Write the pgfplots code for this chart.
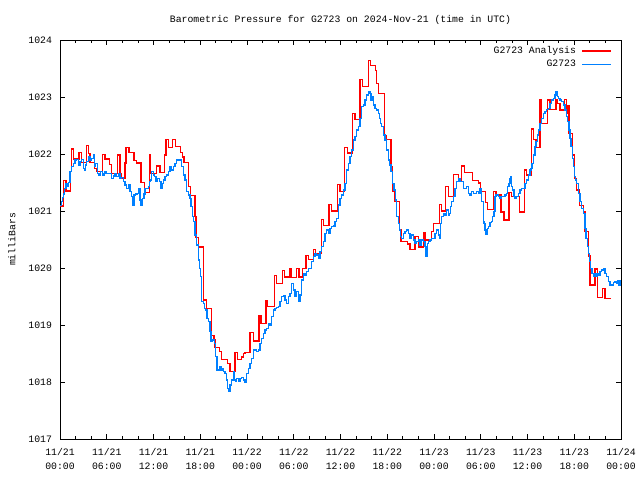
\documentclass[border=0pt]{standalone}
\usepackage{fontspec}
\setmainfont{Liberation Mono}
\usepackage{pgfplots}
\pgfplotsset{compat=1.18}
\definecolor{anared}{RGB}{255,0,0}
\definecolor{obsblue}{RGB}{0,128,255}
\newcommand\gfont{\fontsize{9.8bp}{14bp}\selectfont}
\begin{document}
\begin{tikzpicture}
\useasboundingbox (0bp,0bp) rectangle (640bp,480bp);
\begin{axis}[
  at={(60bp,41bp)}, anchor=south west,
  scale only axis, width=561bp, height=399bp,
  xmin=0, xmax=72, ymin=1017, ymax=1024,
  xtick={0,6,...,72},
  xticklabels={{11/21\\00:00},{11/21\\06:00},{11/21\\12:00},{11/21\\18:00},{11/22\\00:00},{11/22\\06:00},{11/22\\12:00},{11/22\\18:00},{11/23\\00:00},{11/23\\06:00},{11/23\\12:00},{11/23\\18:00},{11/24\\00:00}},
  minor x tick num=2,
  ytick={1017,1018,1019,1020,1021,1022,1023,1024},
  /pgf/number format/assume math mode=true,
  /pgf/number format/1000 sep={},
  tick align=inside, xtick pos=both, ytick pos=both,
  xticklabel pos=bottom, yticklabel pos=left,
  major tick length=5bp, minor tick length=3bp,
  every tick/.style={black, line width=0.8bp},
  axis line style={line width=0.9bp},
  tick label style={font=\gfont},
  xticklabel style={align=center, yshift=-5.5bp},
  yticklabel style={xshift=-4.5bp},
  ylabel={milliBars},
  ylabel style={font=\gfont, at={(axis description cs:-0.0856,0.5)}, anchor=center},
  legend plot pos=right,
  legend cell align=right,
  legend style={at={(1,1)}, anchor=north east, xshift=-9bp, yshift=-5bp, draw=none, fill=none, font=\gfont, row sep=2bp, column sep=4bp, inner sep=0pt, nodes={inner sep=1.5bp}},
  legend image code/.code={\draw[#1] (0bp,0bp) -- (29bp,0bp);},
]
\addplot[const plot, color=anared, line width=1.3bp] coordinates {
(0,1021.09) (0.43,1021.54) (0.77,1021.35) (1.37,1021.69) (1.50,1022.09) (1.71,1021.91)
(2.44,1022.03) (2.78,1021.85) (3.42,1022.15) (3.68,1022.01) (3.85,1021.85) (4.41,1021.75)
(4.71,1021.69) (5.48,1021.99) (5.78,1021.91) (6.33,1021.81) (6.63,1021.66) (7.40,1021.98)
(7.70,1021.66) (7.91,1021.57) (8.34,1021.84) (8.47,1022.12) (8.86,1022.03) (9.50,1021.88)
(9.84,1021.84) (10.40,1021.50) (10.82,1021.33) (11.46,1021.98) (11.64,1021.66) (12.41,1021.79)
(12.83,1021.68) (13.39,1021.98) (13.60,1022.26) (13.90,1022.12) (14.46,1022.26) (14.84,1022.13)
(15.44,1022.03) (15.74,1021.95) (15.91,1021.85) (16.47,1021.43) (16.77,1021.27) (17.33,1020.90)
(17.46,1020.54) (17.76,1020.37) (18.40,1019.44) (18.83,1019.29) (19.47,1018.82) (19.77,1018.75)
(19.90,1018.61) (20.45,1018.53) (20.75,1018.39) (21.48,1018.33) (21.82,1018.19) (22.46,1018.52)
(22.81,1018.39) (23.32,1018.44) (23.53,1018.50) (23.75,1018.52) (24.39,1018.87) (24.82,1018.72)
(25.54,1019.16) (25.80,1019.03) (26.44,1019.43) (26.66,1019.32) (27.51,1019.87) (27.81,1019.73)
(28.54,1019.96) (28.80,1019.84) (29.52,1019.98) (29.74,1019.83) (30.38,1019.99) (30.68,1019.84)
(31.11,1019.99) (31.58,1020.22) (31.87,1020.15) (32.52,1020.33) (32.82,1020.25) (33.59,1020.85)
(33.80,1020.74) (34.53,1021.12) (34.87,1021.00) (35.63,1021.46) (35.93,1021.34) (36.49,1022.12)
(36.92,1022.02) (37.51,1022.71) (37.86,1022.61) (38.50,1023.31) (38.84,1023.18) (39.57,1023.64)
(39.87,1023.55) (40.51,1023.46) (40.64,1023.24) (40.85,1023.06) (41.62,1022.33) (41.92,1022.25)
(42.48,1021.78) (42.69,1021.34) (42.99,1021.17) (43.55,1020.67) (43.76,1020.46) (44.62,1020.42)
(44.92,1020.32) (45.56,1020.55) (45.99,1020.37) (46.63,1020.62) (46.84,1020.49) (47.70,1020.64)
(47.91,1020.78) (48.68,1021.12) (48.98,1021.00) (49.49,1021.43) (49.83,1021.25) (50.48,1021.64)
(51.12,1021.54) (51.55,1021.79) (51.89,1021.67) (52.96,1021.54) (53.69,1021.49) (53.99,1021.34)
(54.63,1021.15) (54.89,1021.03) (55.61,1021.34) (55.96,1021.28) (56.60,1020.98) (56.98,1020.84)
(57.63,1021.33) (57.97,1021.26) (58.95,1020.98) (59.59,1021.72) (59.89,1021.63) (60.53,1022.44)
(60.75,1022.26) (61.09,1022.11) (61.60,1022.95) (61.73,1022.83) (61.82,1022.54) (62.54,1022.95)
(62.89,1022.78) (63.66,1022.95) (63.87,1022.89) (64.17,1022.77) (64.73,1022.96) (65.03,1022.71)
(65.20,1022.85) (65.33,1022.36) (65.80,1021.98) (66.01,1021.57) (66.31,1021.37) (66.65,1021.10)
(67.16,1020.99) (67.38,1020.64) (67.81,1020.21) (68.02,1019.70) (68.66,1019.98) (69.00,1019.48)
(69.65,1019.64) (69.95,1019.47) (70.67,1019.47)
};
\addlegendentry{G2723 Analysis}
\addplot[const plot, color=obsblue, line width=1.3bp] coordinates {
(0.000,1021.094) (0.214,1021.164) (0.342,1021.240) (0.428,1021.298) (0.556,1021.398) (0.770,1021.485)
(0.941,1021.427) (1.069,1021.503) (1.283,1021.690) (1.497,1021.778) (1.711,1021.836) (1.925,1021.895)
(2.139,1021.906) (2.353,1021.807) (2.567,1021.865) (2.781,1021.906) (2.995,1021.749) (3.123,1021.719)
(3.294,1021.807) (3.422,1021.865) (3.636,1021.953) (3.850,1021.895) (4.064,1021.924) (4.278,1021.994)
(4.406,1021.778) (4.577,1021.836) (4.791,1021.661) (5.005,1021.632) (5.219,1021.690) (5.433,1021.632)
(5.647,1021.661) (5.775,1021.690) (5.989,1021.661) (6.203,1021.661) (6.417,1021.661) (6.631,1021.573)
(6.845,1021.614) (7.059,1021.661) (7.272,1021.602) (7.486,1021.661) (7.700,1021.573) (7.914,1021.591)
(8.128,1021.515) (8.342,1021.456) (8.556,1021.398) (8.770,1021.456) (8.984,1021.339) (9.197,1021.251)
(9.326,1021.105) (9.497,1021.281) (9.711,1021.298) (9.925,1021.310) (10.053,1021.398) (10.267,1021.193)
(10.395,1021.105) (10.566,1021.222) (10.780,1021.298) (10.908,1021.398) (11.122,1021.398) (11.336,1021.427)
(11.465,1021.515) (11.636,1021.544) (11.764,1021.690) (11.978,1021.632) (12.106,1021.602) (12.320,1021.515)
(12.534,1021.573) (12.748,1021.515) (12.962,1021.398) (13.133,1021.485) (13.304,1021.544) (13.475,1021.602)
(13.689,1021.632) (13.903,1021.690) (14.117,1021.778) (14.331,1021.719) (14.545,1021.778) (14.759,1021.836)
(14.973,1021.895) (15.187,1021.895) (15.400,1021.895) (15.614,1021.778) (15.828,1021.632) (16.042,1021.544)
(16.256,1021.339) (16.470,1021.281) (16.684,1021.222) (16.812,1021.076) (16.983,1020.901) (17.154,1020.813)
(17.325,1020.579) (17.539,1020.404) (17.753,1020.140) (17.881,1019.994) (18.052,1019.848) (18.181,1019.409)
(18.395,1019.380) (18.523,1019.292) (18.699,1019.263) (18.870,1019.117) (19.041,1019.058) (19.255,1018.883)
(19.383,1018.707) (19.597,1018.737) (19.811,1018.678) (19.982,1018.444) (20.153,1018.210) (20.325,1018.210)
(20.538,1018.269) (20.667,1018.210) (20.838,1018.240) (21.009,1018.181) (21.180,1018.152) (21.394,1018.035)
(21.522,1017.889) (21.693,1017.830) (21.822,1017.947) (22.036,1018.035) (22.250,1018.181) (22.378,1018.035)
(22.549,1018.006) (22.677,1018.064) (22.891,1018.006) (23.105,1018.064) (23.319,1018.076) (23.533,1018.035)
(23.747,1017.988) (23.961,1018.152) (24.175,1018.240) (24.389,1018.327) (24.603,1018.415) (24.816,1018.561)
(25.030,1018.561) (25.244,1018.532) (25.458,1018.561) (25.672,1018.678) (25.886,1018.766) (26.100,1018.854)
(26.314,1018.912) (26.528,1018.941) (26.742,1019.029) (26.955,1019.000) (27.169,1019.146) (27.383,1019.263)
(27.597,1019.292) (27.811,1019.310) (28.025,1019.322) (28.239,1019.409) (28.453,1019.497) (28.667,1019.509)
(28.881,1019.438) (29.095,1019.380) (29.308,1019.497) (29.522,1019.555) (29.736,1019.731) (29.950,1019.614)
(30.164,1019.497) (30.378,1019.585) (30.592,1019.409) (30.806,1019.526) (31.020,1019.789) (31.234,1019.906)
(31.448,1019.877) (31.661,1019.935) (31.875,1019.994) (32.089,1019.994) (32.303,1020.111) (32.517,1020.199)
(32.731,1020.257) (32.945,1020.228) (33.159,1020.169) (33.373,1020.286) (33.587,1020.374) (33.800,1020.462)
(34.014,1020.608) (34.228,1020.667) (34.442,1020.608) (34.656,1020.696) (34.870,1020.725) (35.084,1020.737)
(35.298,1020.813) (35.512,1020.871) (35.725,1021.105) (35.939,1021.222) (36.153,1021.281) (36.367,1021.368)
(36.573,1021.486) (36.787,1021.720) (37.001,1021.837) (37.215,1021.954) (37.429,1022.071) (37.643,1022.246)
(37.857,1022.305) (38.071,1022.421) (38.285,1022.480) (38.498,1022.626) (38.712,1022.831) (38.926,1022.860)
(39.140,1022.948) (39.354,1023.036) (39.568,1023.094) (39.782,1023.065) (39.910,1022.948) (40.081,1023.006)
(40.252,1022.860) (40.423,1022.802) (40.637,1022.772) (40.851,1022.714) (40.980,1022.626) (41.151,1022.538)
(41.279,1022.480) (41.493,1022.334) (41.707,1022.246) (41.921,1022.071) (42.135,1021.895) (42.263,1021.807)
(42.477,1021.690) (42.691,1021.486) (42.862,1021.369) (43.076,1021.193) (43.204,1020.901) (43.418,1020.784)
(43.547,1020.667) (43.718,1020.550) (43.846,1020.521) (44.060,1020.609) (44.274,1020.638) (44.488,1020.667)
(44.701,1020.609) (44.915,1020.521) (45.129,1020.579) (45.343,1020.492) (45.557,1020.433) (45.771,1020.462)
(45.985,1020.492) (46.199,1020.404) (46.413,1020.492) (46.626,1020.462) (46.840,1020.375) (46.969,1020.199)
(47.140,1020.433) (47.268,1020.462) (47.482,1020.492) (47.696,1020.521) (47.910,1020.521) (48.124,1020.609)
(48.338,1020.667) (48.552,1020.579) (48.680,1020.521) (48.851,1020.784) (48.979,1020.901) (49.193,1020.960)
(49.407,1020.930) (49.621,1021.018) (49.835,1020.930) (49.963,1020.960) (50.134,1021.076) (50.263,1021.164)
(50.477,1021.252) (50.690,1021.398) (50.904,1021.515) (51.118,1021.573) (51.332,1021.515) (51.546,1021.515)
(51.760,1021.398) (51.974,1021.398) (52.188,1021.427) (52.402,1021.310) (52.616,1021.281) (52.830,1021.340)
(53.044,1021.310) (53.258,1021.310) (53.472,1021.340) (53.686,1021.310) (53.900,1021.398) (54.114,1021.164)
(54.328,1020.813) (54.417,1020.783) (54.545,1020.667) (54.673,1020.596) (54.845,1020.696) (54.973,1020.725)
(55.187,1020.795) (55.401,1020.813) (55.529,1020.900) (55.700,1020.988) (55.828,1021.251) (55.957,1021.280)
(56.128,1021.280) (56.299,1021.251) (56.470,1021.222) (56.684,1021.251) (56.898,1021.251) (57.112,1021.280)
(57.326,1021.310) (57.454,1021.427) (57.625,1021.485) (57.753,1021.573) (57.882,1021.602) (57.967,1021.427)
(58.096,1021.368) (58.267,1021.251) (58.395,1021.222) (58.609,1021.251) (58.823,1021.310) (59.037,1021.368)
(59.251,1021.397) (59.465,1021.397) (59.679,1021.485) (59.893,1021.544) (60.106,1021.631) (60.320,1021.719)
(60.449,1021.748) (60.577,1021.836) (60.748,1021.982) (60.962,1022.128) (61.091,1022.216) (61.262,1022.333)
(61.433,1022.421) (61.604,1022.538) (61.818,1022.626) (62.032,1022.713) (62.246,1022.742) (62.459,1022.783)
(62.673,1022.801) (62.887,1022.889) (63.101,1022.947) (63.315,1022.976) (63.529,1023.035) (63.657,1023.093)
(63.828,1023.006) (63.957,1022.976) (64.171,1022.947) (64.385,1022.918) (64.599,1022.859) (64.812,1022.772)
(65.026,1022.655) (65.155,1022.567) (65.326,1022.421) (65.454,1022.275) (65.582,1022.128) (65.754,1021.924)
(65.882,1021.778) (66.010,1021.602) (66.138,1021.544) (66.310,1021.485) (66.524,1021.310) (66.737,1021.163)
(66.951,1021.047) (67.165,1020.959) (67.379,1020.696) (67.508,1020.520) (67.679,1020.374) (67.807,1020.257)
(67.935,1020.111) (68.106,1019.994) (68.277,1019.906) (68.449,1019.848) (68.663,1019.906) (68.791,1019.848)
(68.962,1019.906) (69.133,1019.877) (69.304,1019.936) (69.518,1019.965) (69.732,1019.994) (69.946,1019.906)
(70.160,1019.848) (70.374,1019.760) (70.588,1019.702) (70.802,1019.702) (71.015,1019.743) (71.229,1019.760)
(71.443,1019.731) (71.572,1019.772) (71.700,1019.702) (71.871,1019.789)
};
\addlegendentry{G2723}
\end{axis}
\node[font=\gfont] at (340.5bp,460bp) {Barometric Pressure for G2723 on 2024-Nov-21 (time in UTC)};
\end{tikzpicture}
\end{document}
